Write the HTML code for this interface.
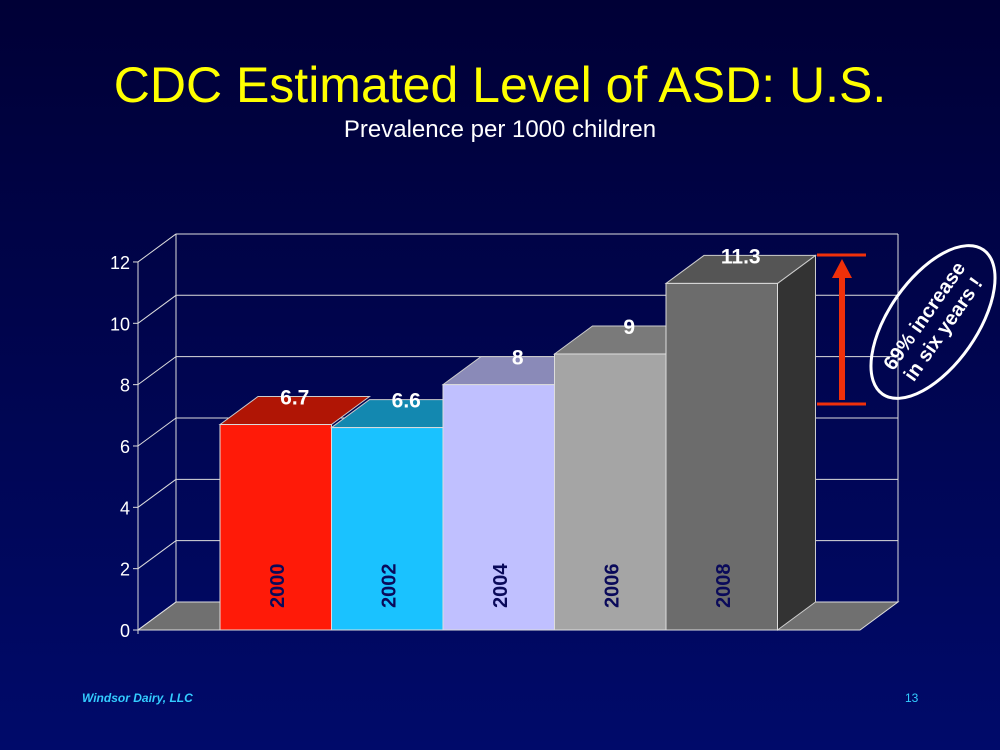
<!DOCTYPE html>
<html><head><meta charset="utf-8"><style>
html,body{margin:0;padding:0;width:1000px;height:750px;overflow:hidden;background:linear-gradient(#000036,#000a6a);font-family:"Liberation Sans",sans-serif}
</style></head><body>
<svg width="1000" height="750" xmlns="http://www.w3.org/2000/svg">
<text x="500" y="102" text-anchor="middle" font-size="50" fill="#ffff00">CDC Estimated Level of ASD: U.S.</text>
<text x="500" y="137" text-anchor="middle" font-size="24" fill="#ffffff">Prevalence per 1000 children</text>
<g id="chart"></g>
<g>
<line x1="817" y1="255" x2="866" y2="255" stroke="#f0300a" stroke-width="3"/>
<line x1="817" y1="404" x2="866" y2="404" stroke="#f0300a" stroke-width="3"/>
<line x1="842" y1="400" x2="842" y2="275" stroke="#f0300a" stroke-width="6"/>
<polygon points="842,259 832,278 852,278" fill="#f0300a"/>
</g>
<g transform="translate(933,322) rotate(-55)">
<ellipse cx="0" cy="0" rx="88" ry="44" fill="none" stroke="#fff" stroke-width="3"/>
<text x="0" y="-4" text-anchor="middle" font-size="20" font-weight="bold" fill="#fff">69% increase</text>
<text x="0" y="19" text-anchor="middle" font-size="20" font-weight="bold" fill="#fff">in six years !</text>
</g>
<text x="82" y="702" font-size="12" font-style="italic" font-weight="bold" fill="#33ccff">Windsor Dairy, LLC</text>
<text x="905" y="702" font-size="12" fill="#33ccff">13</text>
</svg>
<script>
const categories=["2000","2002","2004","2006","2008"];
const values=[6.7,6.6,8,9,11.3];
const valueLabels=["6.7","6.6","8","9","11.3"];
const yTicks=[0,2,4,6,8,10,12];
const ns="http://www.w3.org/2000/svg";
const g=document.getElementById('chart');
const X0=138,Y0=630,PX=30.67,DX=38,DY=-28,X1=860,BW=111.5,BX=220;
const y=v=>Y0-v*PX;
function el(t,a,txt){const e=document.createElementNS(ns,t);for(const k in a)e.setAttribute(k,a[k]);if(txt!==undefined)e.textContent=txt;g.appendChild(e);return e;}
let e;
e=el('polygon',{points:`${X0},${Y0} ${X1},${Y0} ${X1+DX},${Y0+DY} ${X0+DX},${Y0+DY}`,fill:'#707070',stroke:'#ddd','stroke-width':1});

el('line',{x1:X0+DX,y1:y(12)+DY,x2:X0+DX,y2:Y0+DY,stroke:'#ddd'});
el('line',{x1:X1+DX,y1:y(12)+DY,x2:X1+DX,y2:Y0+DY,stroke:'#ddd'});
el('line',{x1:X0,y1:y(12),x2:X0,y2:Y0+4,stroke:'#ddd'});
yTicks.forEach(t=>{
 if(t>0){e=el('line',{x1:X0+DX,y1:y(t)+DY,x2:X1+DX,y2:y(t)+DY,stroke:'#ddd'});
 }
 el('line',{x1:X0,y1:y(t),x2:X0+DX,y2:y(t)+DY,stroke:'#ddd'});
 el('line',{x1:X0-5,y1:y(t),x2:X0,y2:y(t),stroke:'#ddd'});
 e=el('text',{x:X0-8,y:y(t)+7,'text-anchor':'end','font-size':18,fill:'#fff'},String(t));
 
});
const front=['#ff1a08','#1ac2ff','#c0c0ff','#a5a5a5','#6c6c6c'];
const top_=['#b01505','#1388b0','#8a8ab8','#7a7a7a','#555555'];
categories.forEach((c,i)=>{
 const x=BX+i*BW,yt=y(values[i]);
 if(i===categories.length-1){e=el('polygon',{points:`${x+BW},${yt} ${x+BW+DX},${yt+DY} ${x+BW+DX},${Y0+DY} ${x+BW},${Y0}`,fill:'#333',stroke:'#ccc','stroke-width':1});}
 e=el('polygon',{points:`${x},${yt} ${x+DX},${yt+DY} ${x+BW+DX},${yt+DY} ${x+BW},${yt}`,fill:top_[i],stroke:'#ccc','stroke-width':1});
 
 e=el('rect',{x:x,y:yt,width:BW,height:Y0-yt,fill:front[i],stroke:'#ddd','stroke-width':1});
 
 e=el('text',{x:x+BW/2+DX/2,y:yt+DY+8,'text-anchor':'middle','font-size':21,'font-weight':'bold',fill:'#fff'},valueLabels[i]);
 
 e=el('text',{x:0,y:0,transform:`translate(${x+BW/2+8},${Y0-22}) rotate(-90)`,'font-size':20,'font-weight':'bold',fill:'#0a0a5a'},c);
 
});
</script>
</body></html>
